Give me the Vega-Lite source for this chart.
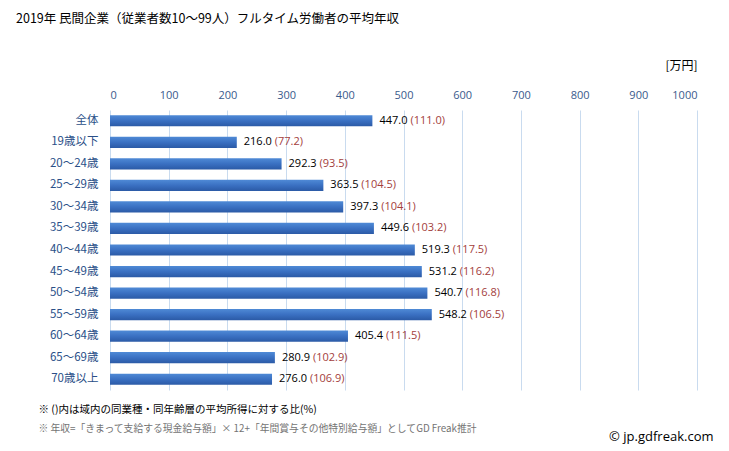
{
  "$schema": "https://vega.github.io/schema/vega-lite/v6.json",
  "autosize": "none",
  "width": 587,
  "height": 280,
  "padding": {"left": 110, "top": 110, "right": 32, "bottom": 61},
  "background": "white",
  "config": {"view": {"stroke": null}, "font": "Noto Sans CJK JP"},
  "title": {
    "text": "2019年 民間企業（従業者数10～99人）フルタイム労働者の平均年収",
    "orient": "top",
    "anchor": "start",
    "frame": "group",
    "dx": -94,
    "offset": 34,
    "fontSize": 12.5,
    "fontWeight": "normal",
    "color": "#000000"
  },
  "data": {
    "values": [
      {"label": "全体", "value": 447.0, "ratio": 111.0},
      {"label": "19歳以下", "value": 216.0, "ratio": 77.2},
      {"label": "20～24歳", "value": 292.3, "ratio": 93.5},
      {"label": "25～29歳", "value": 363.5, "ratio": 104.5},
      {"label": "30～34歳", "value": 397.3, "ratio": 104.1},
      {"label": "35～39歳", "value": 449.6, "ratio": 103.2},
      {"label": "40～44歳", "value": 519.3, "ratio": 117.5},
      {"label": "45～49歳", "value": 531.2, "ratio": 116.2},
      {"label": "50～54歳", "value": 540.7, "ratio": 116.8},
      {"label": "55～59歳", "value": 548.2, "ratio": 106.5},
      {"label": "60～64歳", "value": 405.4, "ratio": 111.5},
      {"label": "65～69歳", "value": 280.9, "ratio": 102.9},
      {"label": "70歳以上", "value": 276.0, "ratio": 106.9}
    ]
  },
  "layer": [
    {
      "mark": {
        "type": "bar",
        "color": {
          "gradient": "linear",
          "x1": 0, "y1": 0, "x2": 0, "y2": 1,
          "stops": [
            {"offset": 0, "color": "#4f8ad6"},
            {"offset": 0.5, "color": "#3a70c2"},
            {"offset": 1, "color": "#2b5aa6"}
          ]
        }
      },
      "encoding": {
        "y": {
          "field": "label",
          "type": "nominal",
          "sort": null,
          "scale": {"paddingInner": 0.48, "paddingOuter": 0.24},
          "axis": {
            "orient": "left",
            "title": "[万円]",
            "titleAngle": 0,
            "titleX": 587,
            "titleY": -45,
            "titleAlign": "right",
            "titleBaseline": "middle",
            "titleFontSize": 12,
            "titleFontWeight": "normal",
            "titleColor": "#000000",
            "labelColor": "#2a4f88",
            "labelFontSize": 11.5,
            "labelFontWeight": "normal",
            "labelPadding": 12,
            "ticks": false,
            "domain": false,
            "grid": false
          }
        },
        "x": {
          "field": "value",
          "type": "quantitative",
          "scale": {"domain": [0, 1000], "nice": false},
          "axis": {
            "orient": "top",
            "values": [0, 100, 200, 300, 400, 500, 600, 700, 800, 900, 1000],
            "format": "d",
            "title": "※ 年収=「きまって支給する現金給与額」× 12+「年間賞与その他特別給与額」としてGD Freak推計",
            "titleX": -72,
            "titleY": 318,
            "titleAlign": "left",
            "titleBaseline": "middle",
            "titleAngle": 0,
            "titleFontSize": 9.8,
            "titleFontWeight": "normal",
            "titleColor": "#737373",
            "labelColor": "#3a5a8c",
            "labelFontSize": 11,
            "labelPadding": 10,
            "labelFont": "Open Sans",
            "ticks": false,
            "domain": false,
            "grid": true,
            "gridColor": "#c9dbef",
            "gridWidth": 1
          }
        }
      }
    },
    {
      "mark": {"type": "text", "align": "left", "dx": 7, "fontSize": 11, "color": "#000000", "font": "Open Sans"},
      "encoding": {
        "y": {
          "field": "label",
          "type": "nominal",
          "sort": null,
          "axis": {
            "orient": "right",
            "labels": false,
            "ticks": false,
            "domain": false,
            "grid": false,
            "title": "© jp.gdfreak.com",
            "titleX": 16,
            "titleY": 326,
            "titleAngle": 0,
            "titleAlign": "right",
            "titleBaseline": "middle",
            "titleFont": "Open Sans",
            "titleFontSize": 13,
            "titleFontWeight": "normal",
            "titleColor": "#000000"
          }
        },
        "x": {
          "field": "value",
          "type": "quantitative",
          "axis": {
            "orient": "bottom",
            "labels": false,
            "ticks": false,
            "domain": false,
            "grid": false,
            "title": "※ ()内は域内の同業種・同年齢層の平均所得に対する比(%)",
            "titleX": -72,
            "titleY": 19,
            "titleAngle": 0,
            "titleAlign": "left",
            "titleBaseline": "middle",
            "titleFontSize": 10.5,
            "titleFontWeight": "normal",
            "titleColor": "#000000"
          }
        },
        "text": {"field": "value", "type": "quantitative", "format": ".1f"}
      }
    },
    {
      "mark": {
        "type": "text",
        "align": "left",
        "dx": 38,
        "fontSize": 11,
        "color": "#a3403c",
        "font": "Open Sans",
        "text": {"expr": "'(' + format(datum.ratio, '.1f') + ')'"}
      },
      "encoding": {
        "y": {"field": "label", "type": "nominal", "sort": null, "axis": null},
        "x": {"field": "value", "type": "quantitative", "axis": null}
      }
    }
  ],
  "resolve": {"axis": {"x": "independent", "y": "independent"}}
}
